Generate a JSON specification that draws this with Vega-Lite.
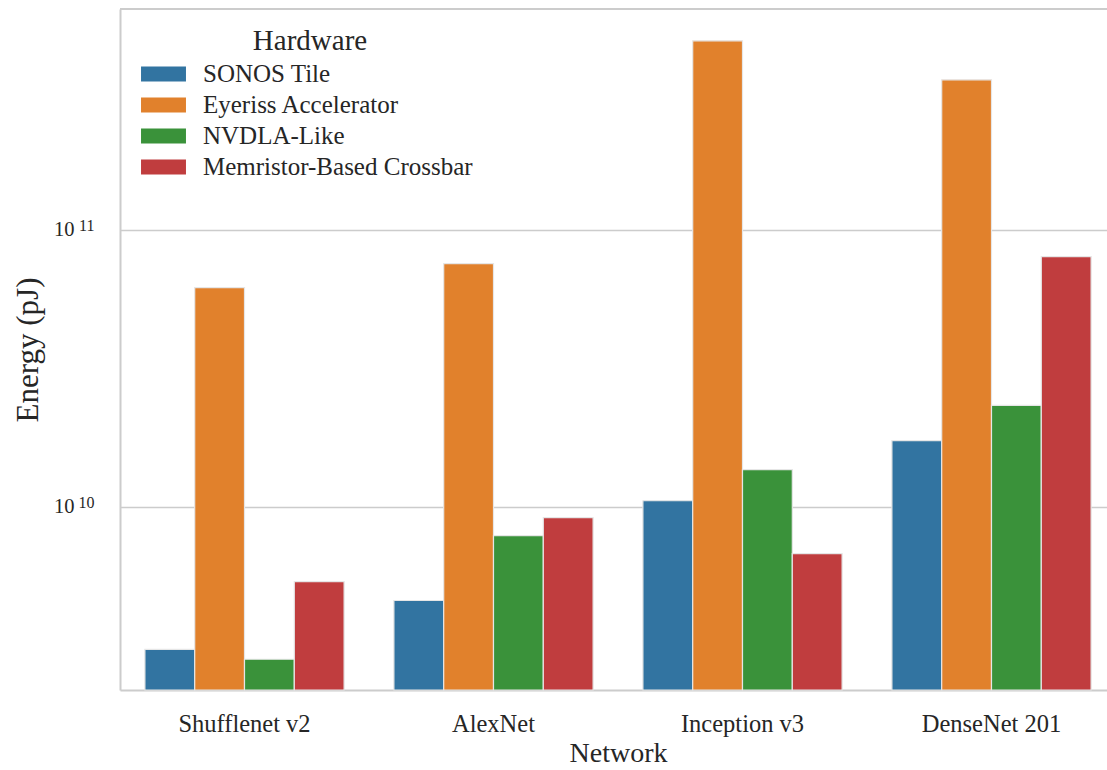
{
  "$schema": "https://vega.github.io/schema/vega-lite/v6.json",
  "autosize": {"type": "none"},
  "padding": {"left": 120, "top": 9, "right": 0, "bottom": 80},
  "width": 987,
  "height": 681,
  "background": "white",
  "config": {
    "font": "Liberation Serif",
    "view": {"stroke": null},
    "axis": {
      "domainColor": "#cccccc",
      "domainWidth": 2,
      "gridColor": "#cccccc",
      "gridWidth": 1.6,
      "ticks": false,
      "labelColor": "#262626",
      "titleColor": "#262626",
      "labelFont": "Liberation Serif",
      "titleFont": "Liberation Serif",
      "titleFontWeight": "normal"
    },
    "legend": {
      "labelFont": "Liberation Serif",
      "titleFont": "Liberation Serif",
      "titleFontWeight": "normal"
    }
  },
  "data": {
    "values": [
      {"network": "Shufflenet v2", "hardware": "SONOS Tile", "energy": 3.05e9},
      {"network": "Shufflenet v2", "hardware": "Eyeriss Accelerator", "energy": 6.18e10},
      {"network": "Shufflenet v2", "hardware": "NVDLA-Like", "energy": 2.81e9},
      {"network": "Shufflenet v2", "hardware": "Memristor-Based Crossbar", "energy": 5.36e9},
      {"network": "AlexNet", "hardware": "SONOS Tile", "energy": 4.58e9},
      {"network": "AlexNet", "hardware": "Eyeriss Accelerator", "energy": 7.54e10},
      {"network": "AlexNet", "hardware": "NVDLA-Like", "energy": 7.86e9},
      {"network": "AlexNet", "hardware": "Memristor-Based Crossbar", "energy": 9.12e9},
      {"network": "Inception v3", "hardware": "SONOS Tile", "energy": 1.05e10},
      {"network": "Inception v3", "hardware": "Eyeriss Accelerator", "energy": 4.81e11},
      {"network": "Inception v3", "hardware": "NVDLA-Like", "energy": 1.36e10},
      {"network": "Inception v3", "hardware": "Memristor-Based Crossbar", "energy": 6.76e9},
      {"network": "DenseNet 201", "hardware": "SONOS Tile", "energy": 1.73e10},
      {"network": "DenseNet 201", "hardware": "Eyeriss Accelerator", "energy": 3.48e11},
      {"network": "DenseNet 201", "hardware": "NVDLA-Like", "energy": 2.32e10},
      {"network": "DenseNet 201", "hardware": "Memristor-Based Crossbar", "energy": 8.0e10}
    ]
  },
  "resolve": {"scale": {"y": "independent"}, "axis": {"y": "independent"}},
  "layer": [
    {
      "mark": {"type": "bar", "stroke": "#e6e6e6", "strokeWidth": 1.2},
      "encoding": {
        "x": {
          "field": "network",
          "type": "nominal",
          "sort": ["Shufflenet v2", "AlexNet", "Inception v3", "DenseNet 201"],
          "scale": {"range": [0, 996], "paddingInner": 0.2, "paddingOuter": 0.1},
          "axis": {
            "title": "Network",
            "labelAngle": 0,
            "labelFontSize": 24.5,
            "labelPadding": 22,
            "titleFontSize": 28,
            "titlePadding": 4,
            "titleX": 498,
            "grid": false
          }
        },
        "xOffset": {
          "field": "hardware",
          "type": "nominal",
          "sort": ["SONOS Tile", "Eyeriss Accelerator", "NVDLA-Like", "Memristor-Based Crossbar"],
          "scale": {"paddingInner": 0, "paddingOuter": 0}
        },
        "y": {
          "field": "energy",
          "type": "quantitative",
          "scale": {"type": "log", "domain": [2.176e9, 6.27e11], "nice": false},
          "axis": {
            "orient": "left",
            "title": "Energy (pJ)",
            "values": [1e10, 1e11],
            "labelExpr": "'10'",
            "labelFontSize": 20.5,
            "labelPadding": 46,
            "titleFontSize": 31,
            "titlePadding": 9,
            "grid": true
          }
        },
        "y2": {"datum": 2.176e9},
        "color": {
          "field": "hardware",
          "type": "nominal",
          "sort": ["SONOS Tile", "Eyeriss Accelerator", "NVDLA-Like", "Memristor-Based Crossbar"],
          "scale": {
            "domain": ["SONOS Tile", "Eyeriss Accelerator", "NVDLA-Like", "Memristor-Based Crossbar"],
            "range": ["#3274a1", "#e1812c", "#3a923a", "#c03d3e"]
          },
          "legend": {
            "title": "Hardware",
            "orient": "none",
            "legendX": 28,
            "legendY": 18,
            "padding": 0,
            "titleFontSize": 29,
            "titleAnchor": "middle",
            "titlePadding": 2.5,
            "titleColor": "#262626",
            "labelFontSize": 25,
            "labelColor": "#262626",
            "labelLimit": 500,
            "labelOffset": 24,
            "rowPadding": 2,
            "symbolSize": 961,
            "symbolType": "M-1.45,-0.48L1.45,-0.48L1.45,0.48L-1.45,0.48Z",
            "symbolStrokeWidth": 0,
            "symbolOpacity": 1
          }
        }
      }
    },
    {
      "mark": {"type": "rule", "color": "#cccccc", "strokeWidth": 2},
      "encoding": {
        "y": {
          "datum": 6.27e11,
          "type": "quantitative",
          "scale": {"type": "log", "domain": [2.176e9, 6.27e11], "nice": false},
          "axis": {
            "orient": "left",
            "title": null,
            "values": [1e10, 1e11],
            "labelExpr": "datum.value == 1e10 ? '10' : '11'",
            "labelFontSize": 16,
            "labelPadding": 26,
            "labelOffset": -4,
            "domain": false,
            "grid": false
          }
        }
      }
    }
  ]
}
